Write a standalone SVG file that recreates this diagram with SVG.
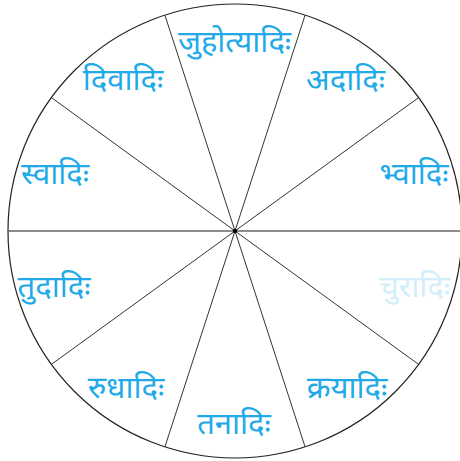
<svg xmlns="http://www.w3.org/2000/svg" width="460" height="461" viewBox="0 0 460 461">
<style>
.lbl{font-family:"Noto Sans Devanagari","Noto Sans","Lohit Devanagari","DejaVu Sans",sans-serif;font-size:31px;fill:#22aae8;text-anchor:middle}
.faint{fill:#d2eefb}
.spoke{stroke:#333;stroke-width:1;fill:none}
</style>
<rect width="460" height="461" fill="#fff"/>
<g id="connectors">
<circle cx="235" cy="231" r="227" fill="none" stroke="#222" stroke-width="1.2"/>
<line x1="8" y1="231" x2="462" y2="231" stroke="#666" stroke-width="1.6"/>
<line class="spoke" x1="418.6" y1="97.6" x2="51.4" y2="364.4"/>
<line class="spoke" x1="305.1" y1="15.1" x2="164.9" y2="446.9"/>
<line class="spoke" x1="164.9" y1="15.1" x2="305.1" y2="446.9"/>
<line class="spoke" x1="51.4" y1="97.6" x2="418.6" y2="364.4"/>
<circle cx="235" cy="231" r="2.2" fill="#000"/>
</g>
<g id="juhotyadi"><text class="lbl" x="234.5" y="52">जुहोत्यादिः</text></g>
<g id="adadi"><text class="lbl" x="345.5" y="90">अदादिः</text></g>
<g id="divadi"><text class="lbl" x="123" y="90">दिवादिः</text></g>
<g id="svadi"><text class="lbl" x="55" y="184">स्वादिः</text></g>
<g id="bhvadi"><text class="lbl" x="414" y="184">भ्वादिः</text></g>
<g id="churadi"><text class="lbl faint" x="414.5" y="297">चुरादिः</text></g>
<g id="tudadi"><text class="lbl" x="54" y="297">तुदादिः</text></g>
<g id="rudhadi"><text class="lbl" x="126" y="398">रुधादिः</text></g>
<g id="kryadi"><text class="lbl" x="347" y="398">क्रयादिः</text></g>
<g id="tanadi"><text class="lbl" x="234" y="434">तनादिः</text></g>
</svg>
